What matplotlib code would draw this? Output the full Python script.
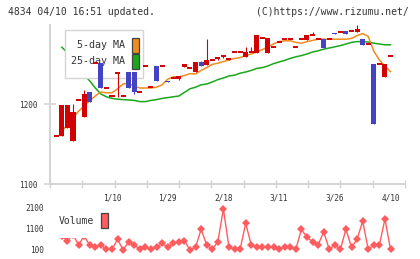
import numpy as np
import matplotlib
matplotlib.use('Agg')
import matplotlib.pyplot as plt
from matplotlib.patches import Rectangle

# daily candles (oldest -> newest)
opens  = [1160, 1160, 1170, 1154, 1205, 1184, 1215, 1251, 1251, 1220,
          1210, 1239, 1210, 1240, 1240, 1215, 1248, 1221, 1248, 1248,
          1229, 1232, 1231, 1246, 1245, 1240, 1252, 1249, 1255, 1256,
          1260, 1255, 1265, 1265, 1259, 1265, 1264, 1283, 1264, 1271,
          1278, 1281, 1281, 1271, 1281, 1280, 1286, 1281, 1281, 1281,
          1289, 1290, 1291, 1291, 1290, 1281, 1275, 1250, 1250, 1234,
          1260]
closes = [1160, 1199, 1199, 1190, 1205, 1212, 1203, 1251, 1220, 1220,
          1210, 1239, 1210, 1220, 1215, 1215, 1248, 1221, 1229, 1248,
          1227, 1232, 1235, 1250, 1245, 1252, 1248, 1255, 1255, 1259,
          1260, 1257, 1265, 1265, 1265, 1265, 1286, 1283, 1282, 1271,
          1278, 1281, 1281, 1271, 1281, 1286, 1286, 1281, 1270, 1281,
          1287, 1290, 1288, 1291, 1294, 1274, 1275, 1175, 1250, 1250,
          1260]
highs  = [1160, 1199, 1199, 1200, 1205, 1218, 1215, 1251, 1251, 1220,
          1210, 1239, 1210, 1240, 1240, 1215, 1248, 1221, 1248, 1248,
          1229, 1232, 1235, 1250, 1245, 1252, 1254, 1281, 1255, 1259,
          1260, 1257, 1265, 1265, 1271, 1271, 1286, 1283, 1282, 1271,
          1278, 1281, 1281, 1271, 1281, 1286, 1290, 1281, 1281, 1281,
          1289, 1290, 1291, 1291, 1299, 1281, 1275, 1250, 1250, 1250,
          1260]
lows   = [1160, 1160, 1170, 1154, 1205, 1184, 1203, 1251, 1220, 1220,
          1210, 1209, 1210, 1220, 1212, 1215, 1248, 1221, 1229, 1248,
          1227, 1232, 1230, 1246, 1245, 1240, 1248, 1249, 1255, 1255,
          1257, 1255, 1265, 1265, 1259, 1265, 1264, 1283, 1264, 1271,
          1278, 1281, 1281, 1271, 1281, 1280, 1286, 1281, 1270, 1281,
          1287, 1290, 1288, 1291, 1290, 1274, 1275, 1175, 1250, 1234,
          1260]

ma5 = [np.nan, 1166, 1174, 1182.5, 1191, 1197.5, 1204, 1210, 1215, 1214,
       1214, 1219, 1225, 1226, 1222, 1220, 1220, 1220, 1221, 1224,
       1231, 1234, 1234, 1235.5, 1238, 1237.5, 1242, 1245.5, 1249.5, 1251,
       1253, 1255, 1257, 1258, 1260.5, 1262.5, 1265, 1268, 1271.5, 1275,
       1278, 1279, 1279, 1277, 1276, 1278, 1279.5, 1281, 1281, 1281,
       1281, 1281, 1281, 1282, 1285.5, 1288, 1284.5, 1266, 1255, 1247.5,
       1240.5]
ma25 = [np.nan, 1271, 1264, 1255, 1246, 1236, 1229, 1220, 1212.5, 1209,
        1207, 1206, 1205.5, 1205, 1204.5, 1203, 1203, 1204.5, 1205.5, 1207,
        1208, 1209, 1210, 1214.5, 1219, 1221, 1224, 1225, 1227.5, 1230.5,
        1232.5, 1235, 1236, 1238.5, 1240, 1242, 1244.5, 1245.5, 1247.5, 1250.5,
        1252.5, 1254.5, 1257, 1259, 1260.5, 1262.5, 1265, 1266.5, 1268.5, 1270,
        1271.5, 1273, 1275, 1277, 1278, 1278, 1277.5, 1276, 1275, 1274,
        1274]

volume = [900, 730, 489, 800, 294, 730, 294, 212, 294, 85,
          85, 571, 51, 455, 294, 85, 183, 85, 183, 377,
          183, 377, 455, 503, 51, 183, 1057, 294, 85, 455,
          2044, 183, 85, 85, 1349, 294, 183, 183, 183, 183,
          85, 183, 183, 85, 1057, 669, 455, 294, 941, 85,
          294, 85, 1057, 183, 571, 1461, 85, 294, 294, 1558,
          85]

date_idx = [10, 20, 30, 40, 50, 60]
date_labels = ['1/10', '1/29', '2/18', '3/11', '3/26', '4/10']
price_ticks = [1100, 1200]
vol_ticks = [100, 1100, 2100]

RED = '#d20000'
BLUE = '#4343c3'
ORANGE = '#f08c1e'
GREEN = '#1aa81a'
VOLC = '#ff5c60'
GRAY = '#d4d4d4'
TXT = '#333333'

plt.rcParams['font.family'] = ['DejaVu Sans Mono']

W, H = 420, 259
fig = plt.figure(figsize=(W / 100, H / 100), dpi=100)


def fx(x):
    return x / W


def fy(y):
    return 1 - y / H


ax = fig.add_axes([fx(50), fy(184), fx(405) - fx(50), fy(25) - fy(184)])
axv = fig.add_axes([fx(50), fy(254), fx(405) - fx(50), fy(203) - fy(254)])

n = len(closes)
xs = np.arange(n)
o = np.array(opens, float)
c = np.array(closes, float)
up = c >= o
doji = c == o
body = ~doji
colors = np.where(up, RED, BLUE)

# moving averages (under the legend box)
ax.plot(xs, ma25, color=GREEN, lw=1.1, zorder=1)
ax.plot(xs, ma5, color=ORANGE, lw=1.1, zorder=1)

# candles
ax.vlines(xs, lows, highs, colors=colors, lw=0.8, zorder=3)
ax.bar(xs[body], np.abs(c - o)[body], bottom=np.minimum(o, c)[body],
       width=0.9, color=colors[body], zorder=3)
ax.hlines(c[doji], xs[doji] - 0.45, xs[doji] + 0.45, colors=colors[doji],
          lw=1.4, zorder=3)

x0, x1 = -1.13, 62.6
ax.set_xlim(x0, x1)
ax.set_ylim(1100, 1298.75)
for s in ['top', 'right']:
    ax.spines[s].set_visible(False)
for s in ['left', 'bottom']:
    ax.spines[s].set_color(GRAY)
    ax.spines[s].set_linewidth(1.4)
ax.set_xticks(np.linspace(x0, x1, 12))
ax.set_xticklabels([])
ax.set_xticks(date_idx, minor=True)
ax.set_xticklabels(date_labels, minor=True)
ax.tick_params(axis='x', which='major', direction='inout', length=6,
               width=1, color=GRAY)
ax.tick_params(axis='x', which='minor', length=0, pad=7,
               labelsize=5.6, labelcolor=TXT)
ax.set_yticks(price_ticks)
ax.set_yticklabels([str(t) for t in price_ticks])
ax.tick_params(axis='y', direction='inout', length=8, width=1.2,
               color=GRAY, pad=5, labelsize=5.6, labelcolor=TXT)

# legend box of the price panel
ax.add_patch(Rectangle((fx(65), fy(77.7)), fx(143) - fx(65), fy(30) - fy(77.7),
                       transform=fig.transFigure, facecolor='white',
                       edgecolor=GRAY, lw=1, zorder=2))
for label, col, yc in [('5-day MA', ORANGE, 45.5), ('25-day MA', GREEN, 61.5)]:
    ax.text(fx(125), fy(yc), label, transform=fig.transFigure, ha='right',
            va='center', fontsize=7.2, color=TXT, zorder=2.1)
    ax.add_patch(Rectangle((fx(131.5), fy(yc + 7.5)), fx(7), fy(0) - fy(15),
                           transform=fig.transFigure, facecolor=col,
                           edgecolor='#444444', lw=0.9, zorder=2.1))

# volume panel
axv.plot(xs, volume, color=VOLC, lw=1, marker='D', markersize=4,
         markeredgewidth=0, zorder=2)
axv.set_xlim(x0, x1)
axv.set_ylim(-143, 2336)
for s in axv.spines.values():
    s.set_visible(False)
axv.set_xticks([])
axv.set_yticks(vol_ticks)
axv.set_yticklabels([str(t) for t in vol_ticks])
axv.tick_params(axis='y', length=0, pad=4.3, labelsize=5.6, labelcolor=TXT)
axv.add_patch(Rectangle((fx(52), fy(238)), fx(112) - fx(52), fy(204) - fy(238),
                        transform=fig.transFigure, facecolor='white',
                        edgecolor='none', zorder=3))
axv.text(fx(59), fy(221.5), 'Volume', transform=fig.transFigure, ha='left',
         va='center', fontsize=7, color=TXT, zorder=4)
axv.add_patch(Rectangle((fx(101), fy(228)), fx(6.7), fy(0) - fy(15),
                        transform=fig.transFigure, facecolor=VOLC,
                        edgecolor='#444444', lw=0.9, zorder=4))

fig.text(fx(8), fy(12), '4834 04/10 16:51 updated.', ha='left', va='center',
         fontsize=7, color=TXT)
fig.text(fx(409), fy(12), '(C)https://www.rizumu.net/', ha='right',
         va='center', fontsize=7, color=TXT)

fig.savefig('out.png', dpi=100)
